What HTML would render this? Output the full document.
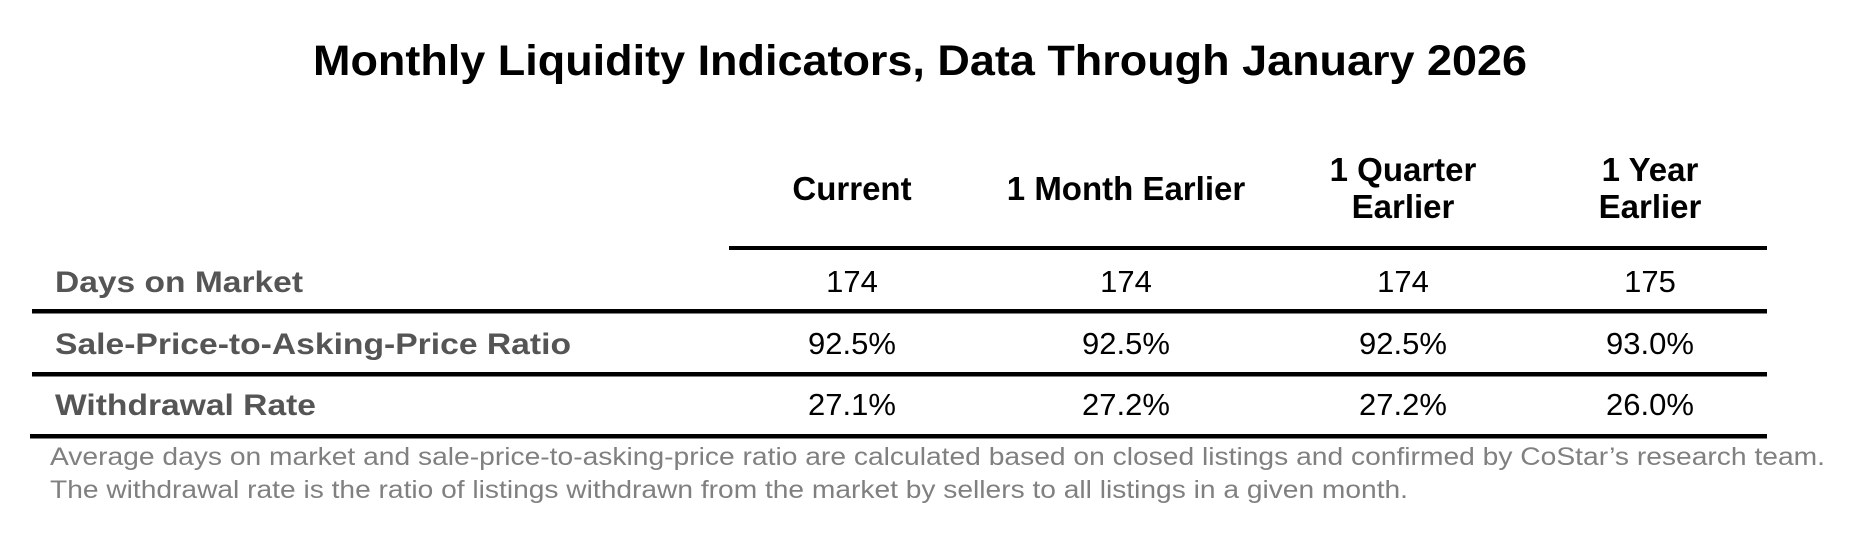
<!DOCTYPE html>
<html><head><meta charset="utf-8"><style>
html,body{margin:0;padding:0;background:#fff;}
svg{display:block;}
text{font-family:"Liberation Sans",Arial,sans-serif;}
</style></head><body>
<svg width="1850" height="535" viewBox="0 0 1850 535" xmlns="http://www.w3.org/2000/svg">
<text x="313" y="75" font-size="43" font-weight="bold" fill="#000" textLength="1214" lengthAdjust="spacingAndGlyphs">Monthly Liquidity Indicators, Data Through January 2026</text>
<g font-size="33" font-weight="bold" fill="#000" text-anchor="middle">
<text x="852" y="200">Current</text>
<text x="1126" y="200">1 Month Earlier</text>
<text x="1403" y="181">1 Quarter</text>
<text x="1403" y="218">Earlier</text>
<text x="1650" y="181">1 Year</text>
<text x="1650" y="218">Earlier</text>
</g>
<rect x="729" y="246" width="1038" height="4" fill="#000"/>
<rect x="32" y="309" width="1735" height="4.5" fill="#000"/>
<rect x="32" y="372" width="1735" height="4.5" fill="#000"/>
<rect x="30" y="434" width="1737" height="4.5" fill="#000"/>
<g font-size="30" font-weight="bold" fill="#555">
<text x="55" y="292" textLength="248" lengthAdjust="spacingAndGlyphs">Days on Market</text>
<text x="55" y="354" textLength="516" lengthAdjust="spacingAndGlyphs">Sale-Price-to-Asking-Price Ratio</text>
<text x="55" y="415" textLength="261" lengthAdjust="spacingAndGlyphs">Withdrawal Rate</text>
</g>
<g font-size="31" fill="#000" text-anchor="middle">
<text x="852" y="292">174</text><text x="1126" y="292">174</text><text x="1403" y="292">174</text><text x="1650" y="292">175</text>
<text x="852" y="354">92.5%</text><text x="1126" y="354">92.5%</text><text x="1403" y="354">92.5%</text><text x="1650" y="354">93.0%</text>
<text x="852" y="415">27.1%</text><text x="1126" y="415">27.2%</text><text x="1403" y="415">27.2%</text><text x="1650" y="415">26.0%</text>
</g>
<g font-size="25" fill="#808080">
<text x="50" y="465" textLength="1775" lengthAdjust="spacingAndGlyphs">Average days on market and sale-price-to-asking-price ratio are calculated based on closed listings and confirmed by CoStar’s research team.</text>
<text x="50" y="498" textLength="1358" lengthAdjust="spacingAndGlyphs">The withdrawal rate is the ratio of listings withdrawn from the market by sellers to all listings in a given month.</text>
</g>
</svg>
</body></html>
